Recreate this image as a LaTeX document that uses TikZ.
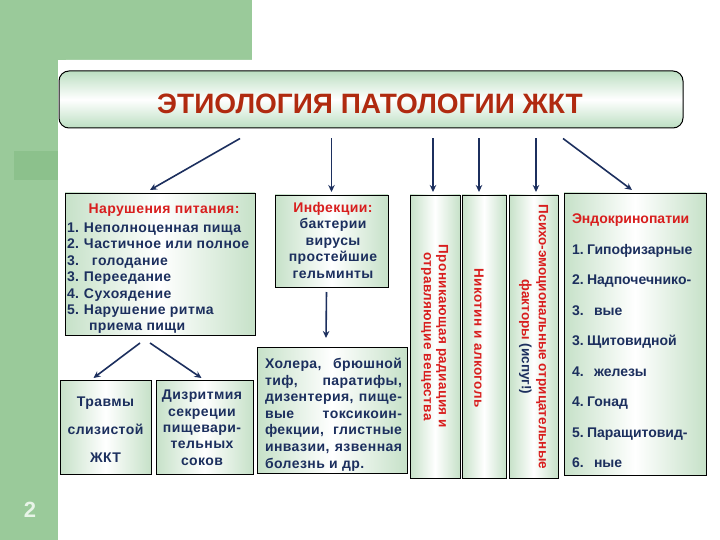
\documentclass[tikz,border=0pt]{standalone}
\usepackage{fontspec}
\setmainfont{Liberation Sans}
\newfontfamily\spaced{Liberation Sans}[LetterSpace=3]
\usetikzlibrary{arrows.meta,calc}
\definecolor{bggreen}{HTML}{9ACA9A}
\definecolor{patch}{HTML}{8CC18C}
\definecolor{bxg}{HTML}{C6E1C8}
\definecolor{tgreen}{HTML}{BCDFC2}
\definecolor{navy}{HTML}{1C2F5E}
\definecolor{hred}{HTML}{D81E1E}
\definecolor{tred}{HTML}{B02A10}
\definecolor{pnum}{HTML}{E8F4E8}
\begin{document}
\begin{tikzpicture}[x=1pt,y=-1pt,
 box/.style={draw=black, line width=0.9pt, left color=bxg, right color=bxg, middle color=white, inner sep=0pt, outer sep=0pt},
 arr/.style={draw=navy, line width=1.6pt, -{Stealth[length=7pt,width=6.5pt]}},
 txt/.style={inner sep=0pt, outer sep=0pt, font=\spaced\fontsize{14}{16.4}\selectfont\bfseries, text=navy},
 vtxt/.style={inner sep=0pt, outer sep=0pt, rotate=-90, align=center, text=hred},
]
\useasboundingbox (0,0) rectangle (720,540);
% background
\fill[bggreen] (0,0) rectangle (252,60);
\fill[bggreen] (0,0) rectangle (58,540);
\fill[patch] (14,151) rectangle (58,180);
\fill[white, rounded corners=8pt] (58,60) rectangle (760,580);
\node[inner sep=0pt, text=pnum, font=\fontsize{22}{22}\selectfont\bfseries] (pg) at (30,510) {2};

% title
\node[draw=black, line width=1pt, rounded corners=10pt, top color=tgreen, bottom color=tgreen, middle color=white, minimum width=624pt, minimum height=57pt, inner sep=0pt] (title) at (371,99.5) {};
\node[inner sep=0pt, text=tred, font=\fontsize{28}{28}\selectfont\bfseries] (ttl) at (370,104) {ЭТИОЛОГИЯ ПАТОЛОГИИ ЖКТ};

% boxes
\node[box, minimum width=190pt, minimum height=142pt] (nar) at (160,264) {};
\node[box, minimum width=91pt, minimum height=94pt] (trav) at (105.5,427) {};
\node[box, minimum width=97pt, minimum height=94pt] (diz) at (204.5,427) {};
\node[box, minimum width=113pt, minimum height=92pt] (inf) at (331.5,241) {};
\node[box, minimum width=150pt, minimum height=126pt] (hol) at (332,410) {};
\node[box, minimum width=50pt, minimum height=283pt] (v1) at (435,336.5) {};
\node[box, minimum width=44pt, minimum height=283pt] (v2) at (484,336.5) {};
\node[box, minimum width=49pt, minimum height=283pt] (v3) at (533.5,336.5) {};
\node[box, minimum width=142pt, minimum height=282pt] (endo) at (635,334) {};

% texts
\node[txt, anchor=north west, align=left] (nart) at (67,204) {%
\makebox[194pt][c]{\textcolor{hred}{Нарушения питания:}}\\[2.5pt]
\makebox[17pt][l]{1.}Неполноценная пища\\
\makebox[17pt][l]{2.}Частичное или полное\\
\makebox[25pt][l]{3.}голодание\\
\makebox[17pt][l]{3.}Переедание\\
\makebox[17pt][l]{4.}Сухоядение\\
\makebox[17pt][l]{5.}Нарушение ритма\\
\hspace*{22pt}приема пищи};

\node[txt, anchor=north, align=center, font=\spaced\fontsize{14}{28}\selectfont\bfseries] (travt) at (105.5,397) {Травмы\\слизистой\\ЖКТ};
\node[txt, anchor=north, align=center] (dizt) at (202,390) {Дизритмия\\секреции\\пищевари-\\тельных\\соков};
\node[txt, anchor=north, align=center, font=\spaced\fontsize{14}{16.5}\selectfont\bfseries] (inft) at (333,202) {\textcolor{hred}{Инфекции:}\\бактерии\\вирусы\\простейшие\\гельминты};
\node[txt, anchor=north west, align=left, font=\spaced\fontsize{14}{16.6}\selectfont\bfseries] (holt) at (265,358) {%
\makebox[137pt][s]{Холера, брюшной}\\
\makebox[137pt][s]{тиф, паратифы,}\\
\makebox[137pt][s]{дизентерия, пище-}\\
\makebox[137pt][s]{вые токсикоин-}\\
\makebox[137pt][s]{фекции, глистные}\\
\makebox[137pt][s]{инвазии, язвенная}\\
болезнь и др.};

\node[vtxt, font=\spaced\fontsize{13.5}{15}\selectfont\bfseries] (v1t) at (434.5,336.5) {Проникающая радиация и\\отравляющие вещества};
\node[vtxt, font=\spaced\fontsize{13.5}{15}\selectfont\bfseries] (v2t) at (479,338) {Никотин и алкоголь};
\node[vtxt, font=\fontsize{13.5}{17}\selectfont\bfseries] (v3t) at (533.5,337) {Психо-эмоциональные отрицательные\\факторы \textcolor{navy}{(испуг!)}};

\node[txt, anchor=north west, align=left, font=\fontsize{14}{30.5}\selectfont\bfseries] (endot) at (572,214) {%
\textcolor{hred}{Эндокринопатии}\\
\makebox[15pt][l]{1.}Гипофизарные\\
\makebox[15pt][l]{2.}Надпочечнико-\\
\makebox[22pt][l]{3.}вые\\
\makebox[15pt][l]{3.}Щитовидной\\
\makebox[22pt][l]{4.}железы\\
\makebox[15pt][l]{4.}Гонад\\
\makebox[15pt][l]{5.}Паращитовид-\\
\makebox[22pt][l]{6.}ные};

% arrows
\coordinate (tb) at ([yshift=-10pt]title.south);
\draw[arr] ([xshift=-131pt]tb) -- ([xshift=-10pt,yshift=3pt]nar.north);
\draw[arr] (inf.north |- tb) -- ([yshift=3pt]inf.north);
\draw[arr] ([xshift=-2pt]v1.north |- tb) -- ([xshift=-2pt,yshift=3pt]v1.north);
\draw[arr] ([xshift=-5pt]v2.north |- tb) -- ([xshift=-5pt,yshift=3pt]v2.north);
\draw[arr] ([xshift=2.5pt]v3.north |- tb) -- ([xshift=2.5pt,yshift=3pt]v3.north);
\draw[arr] ([xshift=192pt]tb) -- ([xshift=-3pt,yshift=3pt]endo.north);
\draw[arr] ([xshift=-5pt,yshift=-5pt]inf.south) -- ([xshift=-6pt,yshift=9pt]hol.north);
\draw[arr] ([xshift=-20pt,yshift=-8pt]nar.south) -- ([xshift=-12pt,yshift=2pt]trav.north);
\draw[arr] ([xshift=-10pt,yshift=-8pt]nar.south) -- ([xshift=-3pt,yshift=2pt]diz.north);
\end{tikzpicture}
\end{document}
